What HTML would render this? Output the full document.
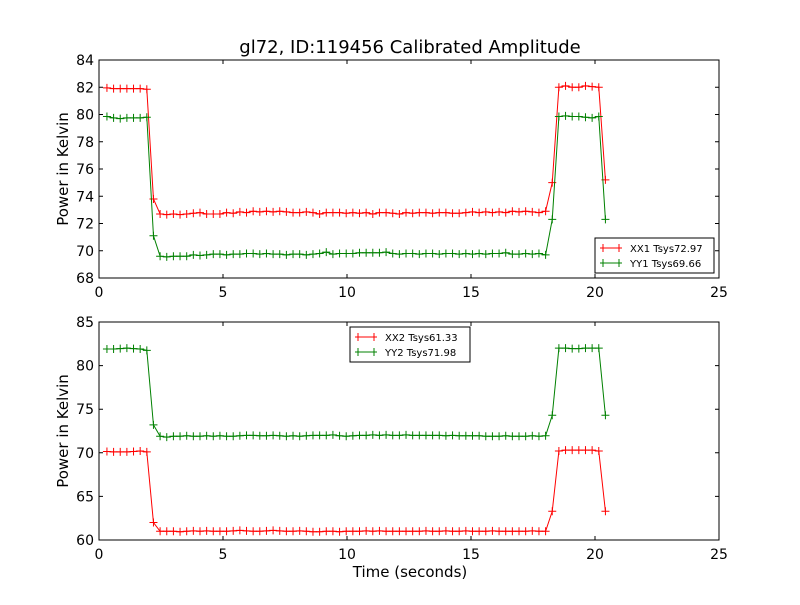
<!DOCTYPE html>
<html><head><meta charset="utf-8"><style>
body{margin:0;background:#fff;}
svg text{font-family:"DejaVu Sans","Liberation Sans",sans-serif;}
</style></head><body>
<svg id="chart" width="800" height="600" xmlns="http://www.w3.org/2000/svg">
<rect width="800" height="600" fill="#fff"/>
<text x="410" y="53" font-size="18" text-anchor="middle">gl72, ID:119456 Calibrated Amplitude</text>
</svg>
<script>
const xTicks=[0,5,10,15,20,25];
const topYTicks=[68,70,72,74,76,78,80,82,84];
const botYTicks=[60,65,70,75,80,85];
const tStart=0.32, tStep=0.268;
const xx1=[81.95,81.9,81.9,81.9,81.9,81.9,81.85,73.8,
72.7,72.65,72.7,72.65,72.7,72.75,72.8,72.7,72.7,72.7,72.8,72.75,72.85,72.8,72.9,72.85,72.9,72.85,72.9,72.85,72.8,72.8,72.85,72.8,72.7,72.8,72.8,72.8,72.75,72.8,72.75,72.8,72.7,72.8,72.8,72.75,72.7,72.8,72.75,72.8,72.8,72.75,72.8,72.8,72.75,72.75,72.8,72.85,72.8,72.85,72.8,72.85,72.8,72.9,72.85,72.9,72.85,72.8,72.9,
75.0,82.0,82.1,82.0,82.0,82.1,82.05,82.0,75.2];
const yy1=[79.85,79.75,79.7,79.75,79.75,79.75,79.8,71.1,
69.6,69.55,69.6,69.6,69.6,69.7,69.65,69.7,69.75,69.75,69.7,69.75,69.75,69.8,69.8,69.75,69.8,69.75,69.75,69.7,69.75,69.75,69.7,69.75,69.8,69.9,69.75,69.8,69.8,69.8,69.85,69.85,69.85,69.85,69.9,69.8,69.75,69.8,69.8,69.75,69.8,69.8,69.75,69.8,69.8,69.75,69.8,69.75,69.8,69.75,69.8,69.8,69.85,69.75,69.75,69.8,69.75,69.8,69.7,
72.3,79.85,79.9,79.85,79.85,79.8,79.75,79.85,72.3];
const xx2=[70.15,70.1,70.1,70.1,70.15,70.2,70.1,62.0,
61.0,61.0,61.0,60.95,61.0,61.05,61.0,61.05,61.0,61.0,61.0,61.05,61.1,61.05,61.0,61.0,61.05,61.1,61.05,61.0,61.0,61.05,61.0,60.95,60.95,61.0,61.0,60.95,61.0,61.0,61.0,61.05,61.0,61.05,61.0,61.0,61.0,61.0,61.0,61.0,61.05,61.0,61.0,61.05,61.0,61.0,61.05,61.0,61.0,61.0,61.05,61.0,61.0,61.0,61.0,61.0,61.05,61.0,61.0,
63.3,70.2,70.3,70.3,70.3,70.3,70.3,70.2,63.3];
const yy2=[81.9,81.9,81.95,82.0,81.95,81.9,81.75,73.2,
71.9,71.8,71.9,71.9,71.95,71.9,71.9,71.95,71.9,71.95,71.9,71.9,71.95,72.0,72.0,71.95,71.95,72.0,71.95,71.9,71.95,71.9,71.95,72.0,72.0,72.0,72.05,71.95,71.9,71.95,72.0,72.0,72.05,72.0,72.05,72.0,72.0,72.05,72.0,72.0,72.0,72.0,72.0,71.95,72.0,71.95,71.95,71.95,71.95,71.9,71.9,71.9,71.95,71.9,71.9,71.9,71.95,71.9,71.95,
74.3,82.0,82.0,81.95,81.95,82.0,82.0,82.0,74.3];

const svg=document.getElementById('chart');
const NS='http://www.w3.org/2000/svg';
function mk(tag,attrs,parent){const e=document.createElementNS(NS,tag);for(const k in attrs)e.setAttribute(k,attrs[k]);(parent||svg).appendChild(e);return e;}

function panel(name,top,bottom,yMin,yMax,yTicks,series,legend,showXLabel){
  const L=99,R=719;
  const g=mk('g',{});
  
  
  const xs=v=>L+(v-0)/(25-0)*(R-L);
  const ys=v=>bottom-(v-yMin)/(yMax-yMin)*(bottom-top);
  series.forEach(s=>{
    const sg=mk('g',{},g);
    
    
    const pts=s.data.map((v,i)=>[xs(tStart+i*tStep),ys(v)]);
    const line=mk('polyline',{points:pts.map(p=>p.join(',')).join(' '),fill:'none',stroke:s.color,'stroke-width':1},sg);
    
    
    pts.forEach(p=>{
      const m=mk('path',{d:`M${p[0]-4},${p[1]}H${p[0]+4}M${p[0]},${p[1]-4}V${p[1]+4}`,stroke:s.color,'stroke-width':1},sg);
      
      
    });
  });
  const frame=mk('rect',{x:L,y:top,width:R-L,height:bottom-top,fill:'none',stroke:'#000','stroke-width':1},g);
  
  
  xTicks.forEach(t=>{
    const x=xs(t);
    mk('path',{d:`M${x},${bottom}V${bottom-4}M${x},${top}V${top+4}`,stroke:'#000'},g);
    const lb=mk('text',{x:x,y:bottom+19,'font-size':14,'text-anchor':'middle'},g);
    lb.textContent=t;
    
    
  });
  yTicks.forEach(t=>{
    const y=ys(t);
    mk('path',{d:`M${L},${y}H${L+4}M${R},${y}H${R-4}`,stroke:'#000'},g);
    const lb=mk('text',{x:L-5,y:y+5,'font-size':14,'text-anchor':'end'},g);
    lb.textContent=t;
    
    
  });
  const yl=mk('text',{x:0,y:0,'font-size':15,'text-anchor':'middle',transform:`translate(68,${(top+bottom)/2}) rotate(-90)`},g);
  yl.textContent='Power in Kelvin';
  
  
  if(showXLabel){
    const xl=mk('text',{x:410,y:577,'font-size':15,'text-anchor':'middle'},g);
    xl.textContent='Time (seconds)';
    
    
  }
  const lg=mk('g',{},g);
  
  
  mk('rect',{x:legend.x,y:legend.y,width:legend.w,height:35,fill:'#fff',stroke:'#000'},lg);
  series.forEach((s,i)=>{
    const y=legend.y+10+i*15;
    const x0=legend.x+5;
    mk('path',{d:`M${x0},${y}H${x0+22}M${x0+3},${y-4}V${y+4}M${x0+19},${y-4}V${y+4}`,stroke:s.color},lg);
    const t=mk('text',{x:x0+30,y:y+4,'font-size':10},lg);
    t.textContent=s.label;
    
    
  });
}
panel('top-panel',60,278,68,84,topYTicks,[{name:'xx1-series',data:xx1,color:'#ff0000',label:'XX1 Tsys72.97'},{name:'yy1-series',data:yy1,color:'#008000',label:'YY1 Tsys69.66'}],{x:595,y:238,w:119},false);
panel('bottom-panel',322,540,60,85,botYTicks,[{name:'xx2-series',data:xx2,color:'#ff0000',label:'XX2 Tsys61.33'},{name:'yy2-series',data:yy2,color:'#008000',label:'YY2 Tsys71.98'}],{x:350,y:327,w:120},true);
</script>
</body></html>
